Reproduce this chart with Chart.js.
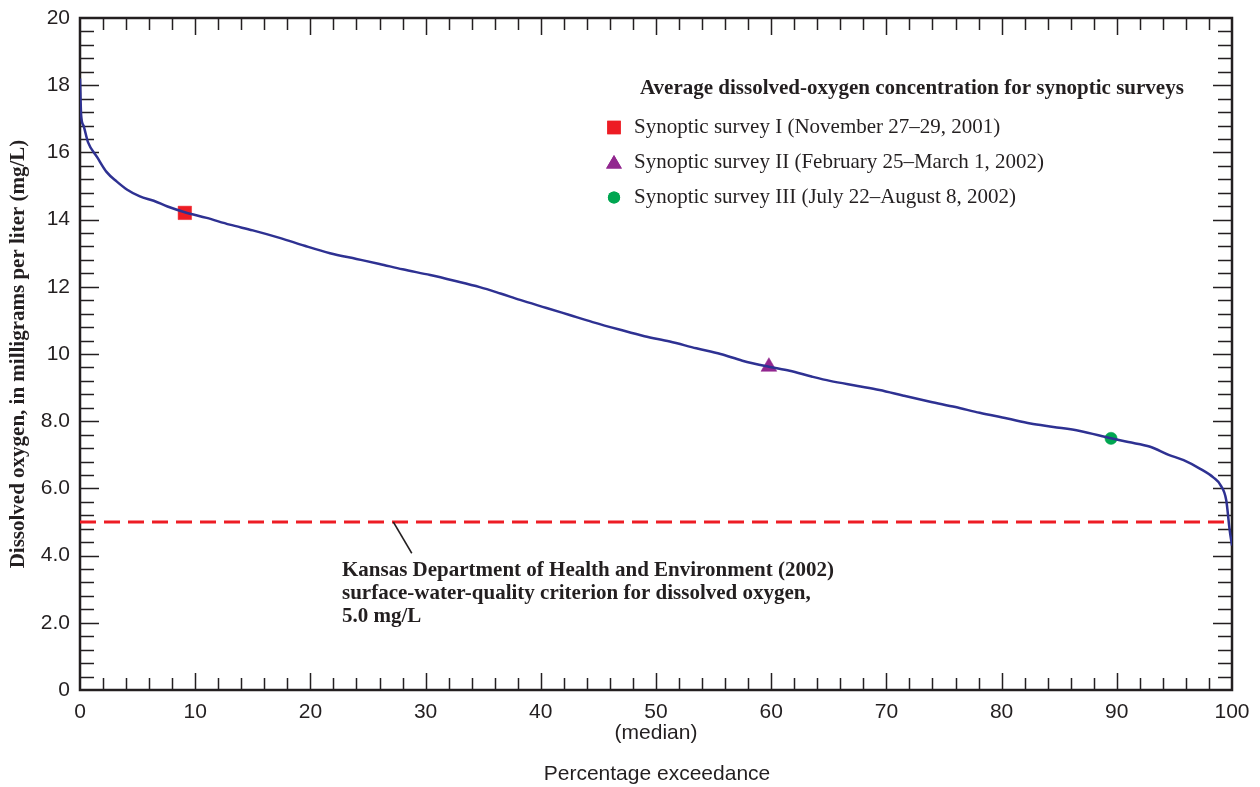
<!DOCTYPE html>
<html>
<head>
<meta charset="utf-8">
<title>Dissolved oxygen duration curve</title>
<script src="https://cdn.jsdelivr.net/npm/chart.js@4/dist/chart.umd.min.js"></script>
<style>
  html, body { margin: 0; padding: 0; background: #fff; }
  #wrap { width: 1260px; height: 787px; position: relative; }
</style>
</head>
<body>
<div id="wrap"><canvas id="chart" width="1260" height="787"></canvas></div>
<script>
'use strict';

// Duration curve: percentage of time exceeded vs. dissolved oxygen (mg/L)
const exceedPct = [0, 0.1, 0.3, 0.7, 1.5, 2.3, 3.2, 4.1, 5.2, 6.4, 7.6, 9.1, 11, 13, 15, 17.4, 19.5,
  21.7, 24, 26, 28, 30.4, 32.5, 34.7, 36.5, 38.2, 40.5, 42.5, 44.5, 46.9, 49, 51.2, 53.5, 55.6,
  57.5, 59.8, 61.6, 63.5, 65.1, 67.5, 69.4, 71.5, 73.8, 76, 78.1, 80.5, 82.5, 84.5, 86.8, 89.5,
  91, 92.9, 94.5, 95.8, 97.2, 98.4, 99, 99.5, 99.8, 100];
const oxygenMgL = [18.2, 17.1, 16.8, 16.3, 15.85, 15.42, 15.13, 14.89, 14.69, 14.56, 14.39, 14.22, 14.05,
  13.85, 13.68, 13.45, 13.22, 13.0, 12.83, 12.68, 12.52, 12.35, 12.18, 11.99, 11.8, 11.61, 11.37,
  11.16, 10.95, 10.72, 10.53, 10.37, 10.17, 10.0, 9.8, 9.62, 9.5, 9.33, 9.2, 9.05, 8.93, 8.76, 8.58,
  8.42, 8.25, 8.08, 7.93, 7.83, 7.71, 7.49, 7.38, 7.24, 7.0, 6.84, 6.59, 6.32, 6.1, 5.65, 4.75, 4.3];

// Synoptic survey averages
const surveyNames = [
  'Synoptic survey I (November 27\u201329, 2001)',
  'Synoptic survey II (February 25\u2013March 1, 2002)',
  'Synoptic survey III (July 22\u2013August 8, 2002)'
];
const surveyPct = [9.1, 59.8, 89.5];
const surveyOxygen = [14.2, 9.62, 7.49];
const surveyColors = ['#ed1c24', '#92278f', '#00a651'];
const surveyShapes = ['rect', 'triangle', 'circle'];
const surveyRadius = [9.5, 9.1, 6.1];

const criterionValue = 5.0;
const criterionText = [
  'Kansas Department of Health and Environment (2002)',
  'surface-water-quality criterion for dissolved oxygen,',
  '5.0 mg/L'
];

const xTickLabels = ['0', '10', '20', '30', '40', '50', '60', '70', '80', '90', '100'];
const yTickLabels = ['0', '2.0', '4.0', '6.0', '8.0', '10', '12', '14', '16', '18', '20'];

const INK = '#231f20';
const tickFont = '21px "Liberation Sans", Arial, sans-serif';
const serif = '"Liberation Serif", "Times New Roman", serif';

const curvePoints = exceedPct.map((x, i) => ({ x, y: oxygenMgL[i] }));

const datasets = [
  {
    label: 'criterion',
    data: [{ x: 0, y: criterionValue }, { x: 100, y: criterionValue }],
    borderColor: '#ed1c24',
    borderWidth: 3,
    borderDash: [16, 8],
    pointRadius: 0
  },
  {
    label: 'duration',
    data: curvePoints,
    borderColor: '#2e3192',
    borderWidth: 2.5,
    pointRadius: 0,
    cubicInterpolationMode: 'monotone'
  }
];
surveyNames.forEach((name, i) => {
  datasets.push({
    label: name,
    data: [{ x: surveyPct[i], y: surveyOxygen[i] }],
    showLine: false,
    pointStyle: surveyShapes[i],
    pointRadius: surveyRadius[i],
    pointBackgroundColor: surveyColors[i],
    pointBorderColor: surveyColors[i],
    pointBorderWidth: 0.5
  });
});

// Frame, inward ticks and all text are drawn here against the chart scales
const framePlugin = {
  id: 'frame',
  beforeDatasetsDraw(chart) {
    const { ctx, chartArea: a, scales: { x, y } } = chart;
    ctx.save();
    ctx.strokeStyle = INK;
    ctx.lineWidth = 1.5;
    ctx.beginPath();
    for (let v = 2; v < 100; v += 2) {
      const px = Math.round(x.getPixelForValue(v)) + 0.5;
      const len = v % 10 === 0 ? 17 : 12;
      ctx.moveTo(px, a.bottom); ctx.lineTo(px, a.bottom - len);
      ctx.moveTo(px, a.top); ctx.lineTo(px, a.top + len);
    }
    for (let k = 1; k < 50; k++) {
      const py = Math.round(y.getPixelForValue(k * 0.4)) + 0.5;
      const len = k % 5 === 0 ? 19 : 14;
      ctx.moveTo(a.left, py); ctx.lineTo(a.left + len, py);
      ctx.moveTo(a.right, py); ctx.lineTo(a.right - len, py);
    }
    ctx.stroke();

    ctx.lineWidth = 2.5;
    ctx.strokeRect(a.left, a.top, a.right - a.left, a.bottom - a.top);

    // tick labels
    ctx.fillStyle = INK;
    ctx.font = tickFont;
    ctx.textAlign = 'right';
    ctx.textBaseline = 'middle';
    yTickLabels.forEach((t, i) => {
      ctx.fillText(t, a.left - 10, y.getPixelForValue(i * 2));
    });
    ctx.textAlign = 'center';
    ctx.textBaseline = 'top';
    xTickLabels.forEach((t, i) => {
      ctx.fillText(t, x.getPixelForValue(i * 10), a.bottom + 12);
    });
    ctx.fillText('(median)', x.getPixelForValue(50), a.bottom + 33);
    ctx.textBaseline = 'middle';
    ctx.fillText('Percentage exceedance', (a.left + a.right) / 2 + 1, 774);

    // y axis title
    ctx.save();
    ctx.translate(19, (a.top + a.bottom) / 2);
    ctx.rotate(-Math.PI / 2);
    ctx.font = 'bold 21px ' + serif;
    ctx.textAlign = 'center';
    ctx.textBaseline = 'middle';
    ctx.fillText('Dissolved oxygen, in milligrams per liter (mg/L)', 0, 0);
    ctx.restore();
    ctx.restore();
  },
  afterDatasetsDraw(chart) {
    const { ctx, scales: { x, y } } = chart;
    ctx.save();

    // leader from criterion line to its note
    ctx.strokeStyle = INK;
    ctx.lineWidth = 1.5;
    ctx.beginPath();
    ctx.moveTo(x.getPixelForValue(27.2), y.getPixelForValue(criterionValue));
    ctx.lineTo(x.getPixelForValue(28.8), y.getPixelForValue(4.07));
    ctx.stroke();

    ctx.fillStyle = INK;
    ctx.font = 'bold 21px ' + serif;
    ctx.textAlign = 'left';
    ctx.textBaseline = 'alphabetic';
    criterionText.forEach((line, i) => {
      ctx.fillText(line, 342, 576 + i * 23);
    });

    // legend
    ctx.textBaseline = 'middle';
    ctx.fillText('Average dissolved-oxygen concentration for synoptic surveys', 640, 89);
    ctx.font = '21px ' + serif;
    surveyNames.forEach((name, i) => {
      const rowY = 127.5 + i * 35;
      const markY = surveyShapes[i] === 'triangle' ? rowY + 1.5 : rowY;
      ctx.fillStyle = surveyColors[i];
      Chart.helpers.drawPoint(ctx, { pointStyle: surveyShapes[i], radius: surveyRadius[i], rotation: 0, borderWidth: 0 }, 614, markY);
      ctx.fill();
      ctx.fillStyle = INK;
      ctx.fillText(name, 634, rowY);
    });
    ctx.restore();
  }
};

new Chart(document.getElementById('chart'), {
  type: 'line',
  data: { datasets },
  options: {
    responsive: false,
    animation: false,
    layout: { padding: { left: 80, right: 28, top: 18, bottom: 97 } },
    plugins: { legend: { display: false }, tooltip: { enabled: false } },
    scales: {
      x: { type: 'linear', min: 0, max: 100, display: false },
      y: { type: 'linear', min: 0, max: 20, display: false }
    }
  },
  plugins: [framePlugin]
});
</script>
</body>
</html>
